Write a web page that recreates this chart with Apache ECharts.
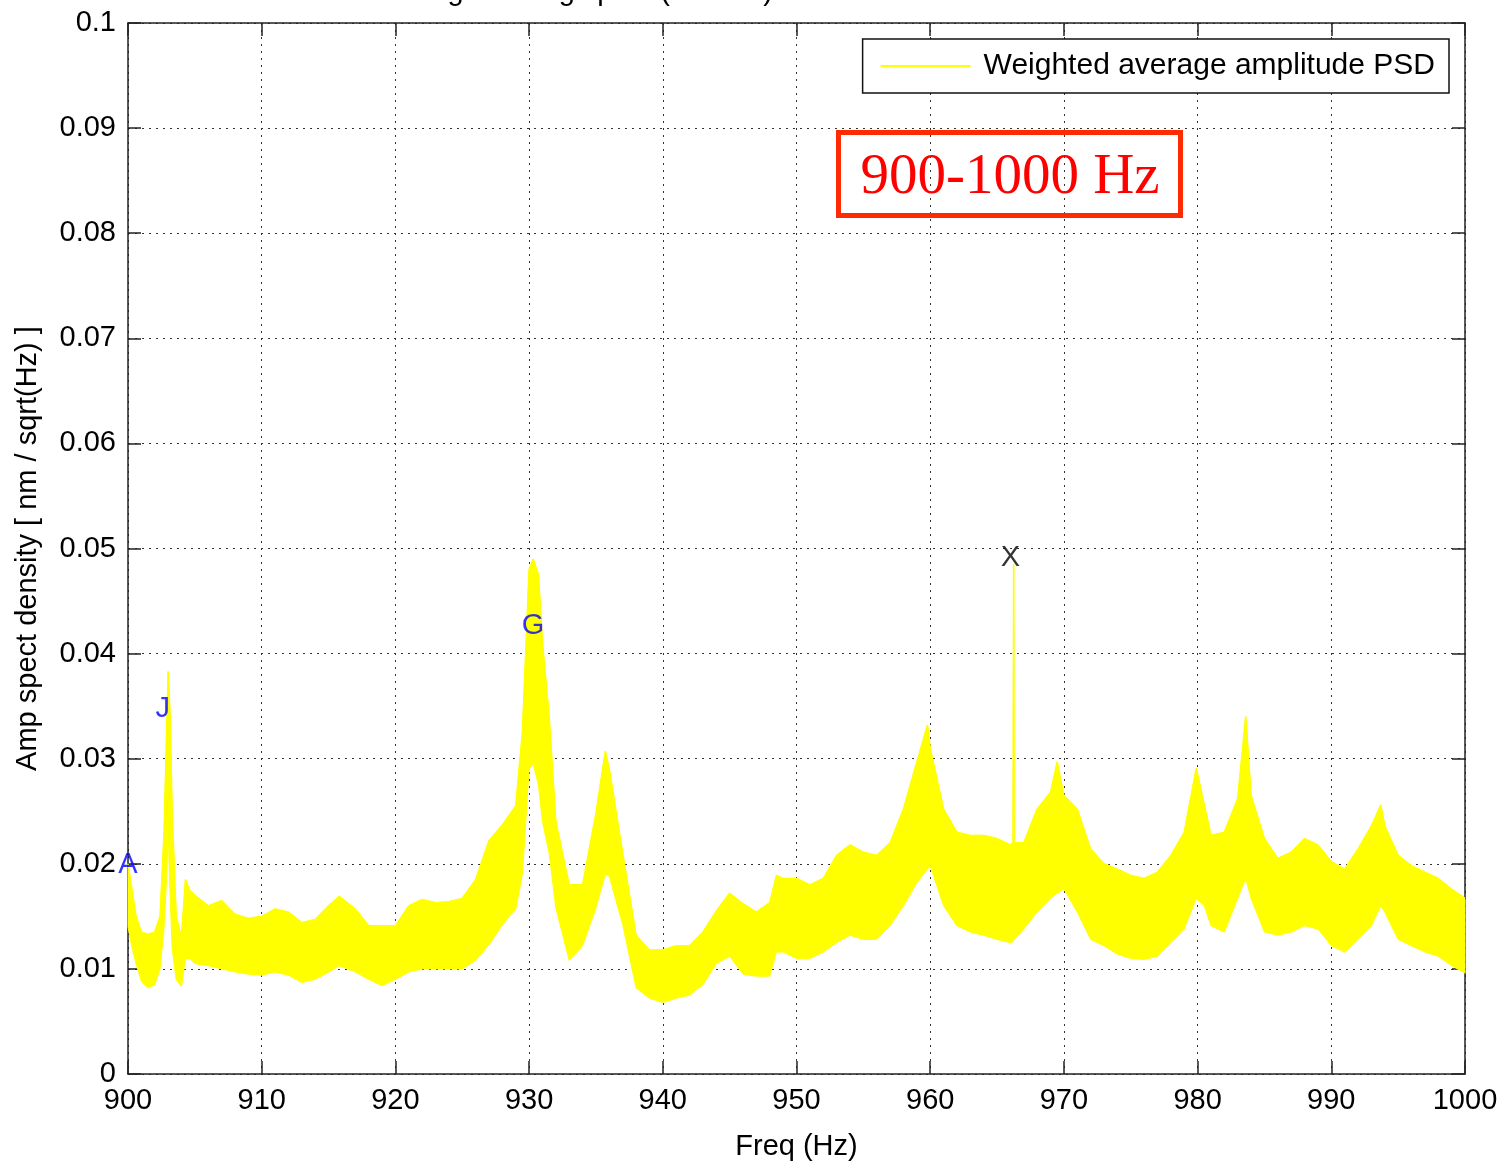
<!DOCTYPE html>
<html lang="en">
<head>
    <meta charset="utf-8">
    <title>Weighted average amplitude PSD 900-1000 Hz</title>
    <style>
* {
  margin: 0;
  padding: 0;
}
#chart-container {
  position: relative;
  width: 1501px;
  height: 1166px;
  overflow: hidden;
  background: #fff;
}
    </style>
</head>
<body>
<div id="chart-container"></div>
<script src="https://fastly.jsdelivr.net/npm/echarts@6/dist/echarts.min.js"></script>
<script>
var freq = [
  900.0, 900.3, 900.6, 901.0, 901.5, 902.0, 902.4, 902.7, 902.9, 903.0,
  903.15, 903.3, 903.6, 904.0, 904.3, 904.6, 905, 906, 907, 908,
  909, 910, 911, 912, 913, 914, 915, 915.8, 917, 918,
  919, 920, 921, 922, 923, 924, 925, 926, 927, 928,
  929, 929.5, 930.0, 930.3, 930.7, 931.0, 931.5, 932, 933, 934,
  935, 935.7, 936, 937, 938, 939, 940, 941, 942, 943,
  944, 945, 946, 947, 948, 948.5, 949, 950, 951, 952,
  953, 954, 955, 956, 957, 958, 959, 959.8, 960, 961,
  962, 963, 964, 965, 966, 966.2, 966.24, 966.28, 967, 968,
  969, 969.5, 970, 971, 972, 973, 974, 975, 976, 977,
  978, 979, 979.9, 980.5, 981, 982, 983, 983.6, 984, 985,
  986, 987, 988, 989, 990, 991, 992, 993, 993.7, 994,
  995, 996, 997, 998, 999, 1000
];
// upper edge of the noisy PSD band
var upperPsd = [
  0.0200, 0.0175, 0.0150, 0.0135, 0.0133, 0.0135, 0.0150, 0.0230, 0.0330, 0.0383,
  0.0340, 0.0250, 0.0150, 0.0130, 0.0185, 0.0175, 0.0170, 0.0160, 0.0165, 0.0152,
  0.0148, 0.0150, 0.0157, 0.0154, 0.0144, 0.0147, 0.0160, 0.0169, 0.0157, 0.0141,
  0.0141, 0.0141, 0.0160, 0.0166, 0.0163, 0.0164, 0.0167, 0.0185, 0.0222, 0.0237,
  0.0255, 0.0325, 0.0480, 0.0490, 0.0475, 0.0410, 0.0340, 0.0240, 0.0180, 0.0180,
  0.0248, 0.0307, 0.0290, 0.0210, 0.0132, 0.0118, 0.0118, 0.0122, 0.0122, 0.0135,
  0.0155, 0.0172, 0.0162, 0.0154, 0.0163, 0.0189, 0.0186, 0.0186, 0.0180, 0.0186,
  0.0208, 0.0218, 0.0211, 0.0208, 0.0220, 0.0252, 0.0297, 0.0332, 0.0310, 0.0252,
  0.0230, 0.0227, 0.0227, 0.0224, 0.0218, 0.0220, 0.0485, 0.0220, 0.0220, 0.0252,
  0.0268, 0.0297, 0.0265, 0.0252, 0.0214, 0.0200, 0.0195, 0.0189, 0.0186, 0.0192,
  0.0208, 0.0230, 0.0291, 0.0256, 0.0227, 0.0230, 0.0262, 0.0340, 0.0265, 0.0224,
  0.0205, 0.0211, 0.0224, 0.0218, 0.0202, 0.0195, 0.0214, 0.0236, 0.0256, 0.0236,
  0.0208, 0.0198, 0.0192, 0.0186, 0.0176, 0.0167
];
// lower edge of the noisy PSD band
var lowerPsd = [
  0.0140, 0.0120, 0.0105, 0.0088, 0.0082, 0.0085, 0.0100, 0.0140, 0.0190, 0.0230,
  0.0170, 0.0120, 0.0090, 0.0083, 0.0110, 0.0110, 0.0105, 0.0103, 0.0100, 0.0097,
  0.0095, 0.0094, 0.0097, 0.0094, 0.0087, 0.0090, 0.0097, 0.0103, 0.0097, 0.0090,
  0.0084, 0.0090, 0.0097, 0.0100, 0.0100, 0.0100, 0.0100, 0.0108, 0.0123, 0.0142,
  0.0157, 0.0190, 0.0290, 0.0295, 0.0275, 0.0240, 0.0210, 0.0158, 0.0108, 0.0122,
  0.0158, 0.0190, 0.0188, 0.0142, 0.0082, 0.0072, 0.0068, 0.0072, 0.0075, 0.0085,
  0.0105, 0.0112, 0.0095, 0.0093, 0.0093, 0.0116, 0.0116, 0.0110, 0.0110, 0.0116,
  0.0125, 0.0132, 0.0128, 0.0128, 0.0141, 0.0160, 0.0182, 0.0195, 0.0198, 0.0160,
  0.0141, 0.0135, 0.0132, 0.0128, 0.0125, 0.0126, 0.0130, 0.0128, 0.0138, 0.0154,
  0.0167, 0.0172, 0.0176, 0.0154, 0.0128, 0.0122, 0.0114, 0.0110, 0.0109, 0.0112,
  0.0125, 0.0138, 0.0167, 0.0160, 0.0141, 0.0135, 0.0167, 0.0186, 0.0167, 0.0135,
  0.0132, 0.0135, 0.0141, 0.0138, 0.0122, 0.0116, 0.0128, 0.0141, 0.0160, 0.0154,
  0.0128, 0.0122, 0.0116, 0.0112, 0.0103, 0.0096
];

// peak markers
var peakNames = ['A', 'J', 'G', 'X'];
var peakFreq = [900.0, 902.6, 930.3, 966.0];
var peakAmp = [0.0199, 0.0347, 0.0426, 0.0491];
var peakColors = ['#0000ff', '#0000ff', '#0000ff', '#000000'];

var fontFam = '"Liberation Sans", Arial, Helvetica, sans-serif';

var dom = document.getElementById('chart-container');
var myChart = echarts.init(dom, null, {
  renderer: 'canvas',
  useDirtyRect: false
});

var upperLine = freq.map(function (f, i) { return [f, upperPsd[i]]; });
var peakData = peakNames.map(function (n, i) {
  return {
    name: n,
    value: [peakFreq[i], peakAmp[i]],
    label: { color: peakColors[i] }
  };
});

var axisLine = { show: true, onZero: false, lineStyle: { color: '#222', width: 1.5 } };
var axisTick = { show: true, inside: true, length: 13, lineStyle: { color: '#222', width: 1.5 } };
var gridLine = { show: true, lineStyle: { color: '#333', width: 1, type: [2, 5] } };

var option = {
  backgroundColor: '#fff',
  animation: false,
  grid: {
    left: 128,
    right: 36,
    top: 23,
    bottom: 91
  },
  legend: {
    right: 52,
    top: 39,
    orient: 'horizontal',
    backgroundColor: '#fff',
    borderColor: '#111',
    borderWidth: 1.5,
    borderRadius: 0,
    padding: [10, 14, 10, 18],
    itemWidth: 90,
    itemHeight: 2,
    data: [{ name: 'Weighted average amplitude PSD', icon: 'rect' }],
    textStyle: {
      fontFamily: fontFam,
      fontSize: 30,
      color: '#000',
      lineHeight: 30,
      padding: [4, 0, 0, 8]
    }
  },
  graphic: [
    {
      type: 'text',
      x: 398,
      y: 6,
      style: {
        text: 'Weighted avg spect (all TMs)',
        font: '29px ' + fontFam,
        fill: '#000',
        verticalAlign: 'bottom'
      }
    },
    {
      type: 'rect',
      shape: { x: 838.5, y: 132.5, width: 342, height: 83 },
      style: { fill: 'none', stroke: '#ff2a00', lineWidth: 5 },
      z: 100
    },
    {
      type: 'text',
      x: 1010,
      y: 178,
      style: {
        text: '900-1000 Hz',
        font: '57px "Liberation Serif", "Times New Roman", serif',
        fill: '#ff0000',
        align: 'center',
        verticalAlign: 'middle'
      },
      z: 100
    }
  ],
  xAxis: [
    {
      type: 'value',
      min: 900,
      max: 1000,
      interval: 10,
      name: 'Freq (Hz)',
      nameLocation: 'middle',
      nameGap: 58,
      nameTextStyle: { fontFamily: fontFam, fontSize: 29, color: '#000' },
      axisLine: axisLine,
      axisTick: axisTick,
      axisLabel: {
        fontFamily: fontFam, fontSize: 29, color: '#000', margin: 12,
        formatter: function (v) { return String(v); }
      },
      splitLine: gridLine
    },
    {
      type: 'value',
      position: 'top',
      min: 900,
      max: 1000,
      interval: 10,
      axisLine: axisLine,
      axisTick: axisTick,
      axisLabel: { show: false },
      splitLine: { show: false }
    }
  ],
  yAxis: [
    {
      type: 'value',
      min: 0,
      max: 0.1,
      interval: 0.01,
      name: 'Amp spect density [ nm / sqrt(Hz) ]',
      nameLocation: 'middle',
      nameGap: 86,
      nameTextStyle: { fontFamily: fontFam, fontSize: 29, color: '#000' },
      axisLine: axisLine,
      axisTick: axisTick,
      axisLabel: {
        fontFamily: fontFam, fontSize: 29, color: '#000', margin: 12,
        formatter: function (v) { return String(parseFloat(v.toFixed(3))); }
      },
      splitLine: gridLine
    },
    {
      type: 'value',
      position: 'right',
      min: 0,
      max: 0.1,
      interval: 0.01,
      axisLine: axisLine,
      axisTick: axisTick,
      axisLabel: { show: false },
      splitLine: { show: false }
    }
  ],
  series: [
    {
      // filled band between lower and upper edges
      name: 'band',
      type: 'custom',
      silent: true,
      data: [[900, 0.02]],
      renderItem: function (params, api) {
        var pts = [];
        for (var i = 0; i < freq.length; i++) {
          pts.push(api.coord([freq[i], upperPsd[i]]));
        }
        for (var j = freq.length - 1; j >= 0; j--) {
          pts.push(api.coord([freq[j], lowerPsd[j]]));
        }
        return {
          type: 'polygon',
          shape: { points: pts },
          style: { fill: '#ffff00', stroke: '#ffff00', lineWidth: 1 }
        };
      },
      z: 2
    },
    {
      name: 'Weighted average amplitude PSD',
      type: 'line',
      data: upperLine,
      symbol: 'none',
      itemStyle: { color: '#ffff00' },
      lineStyle: { color: '#ffff00', width: 1.5 },
      z: 3
    },
    {
      name: 'peaks',
      type: 'scatter',
      data: peakData,
      symbolSize: 1,
      itemStyle: { color: 'rgba(0,0,0,0)' },
      label: {
        show: true,
        position: 'inside',
        formatter: '{b}',
        fontFamily: fontFam,
        fontSize: 29,
        textBorderWidth: 0
      },
      z: 5
    }
  ]
};

if (option && typeof option === 'object') {
  myChart.setOption(option);
}

window.addEventListener('resize', myChart.resize);
</script>
</body>
</html>
